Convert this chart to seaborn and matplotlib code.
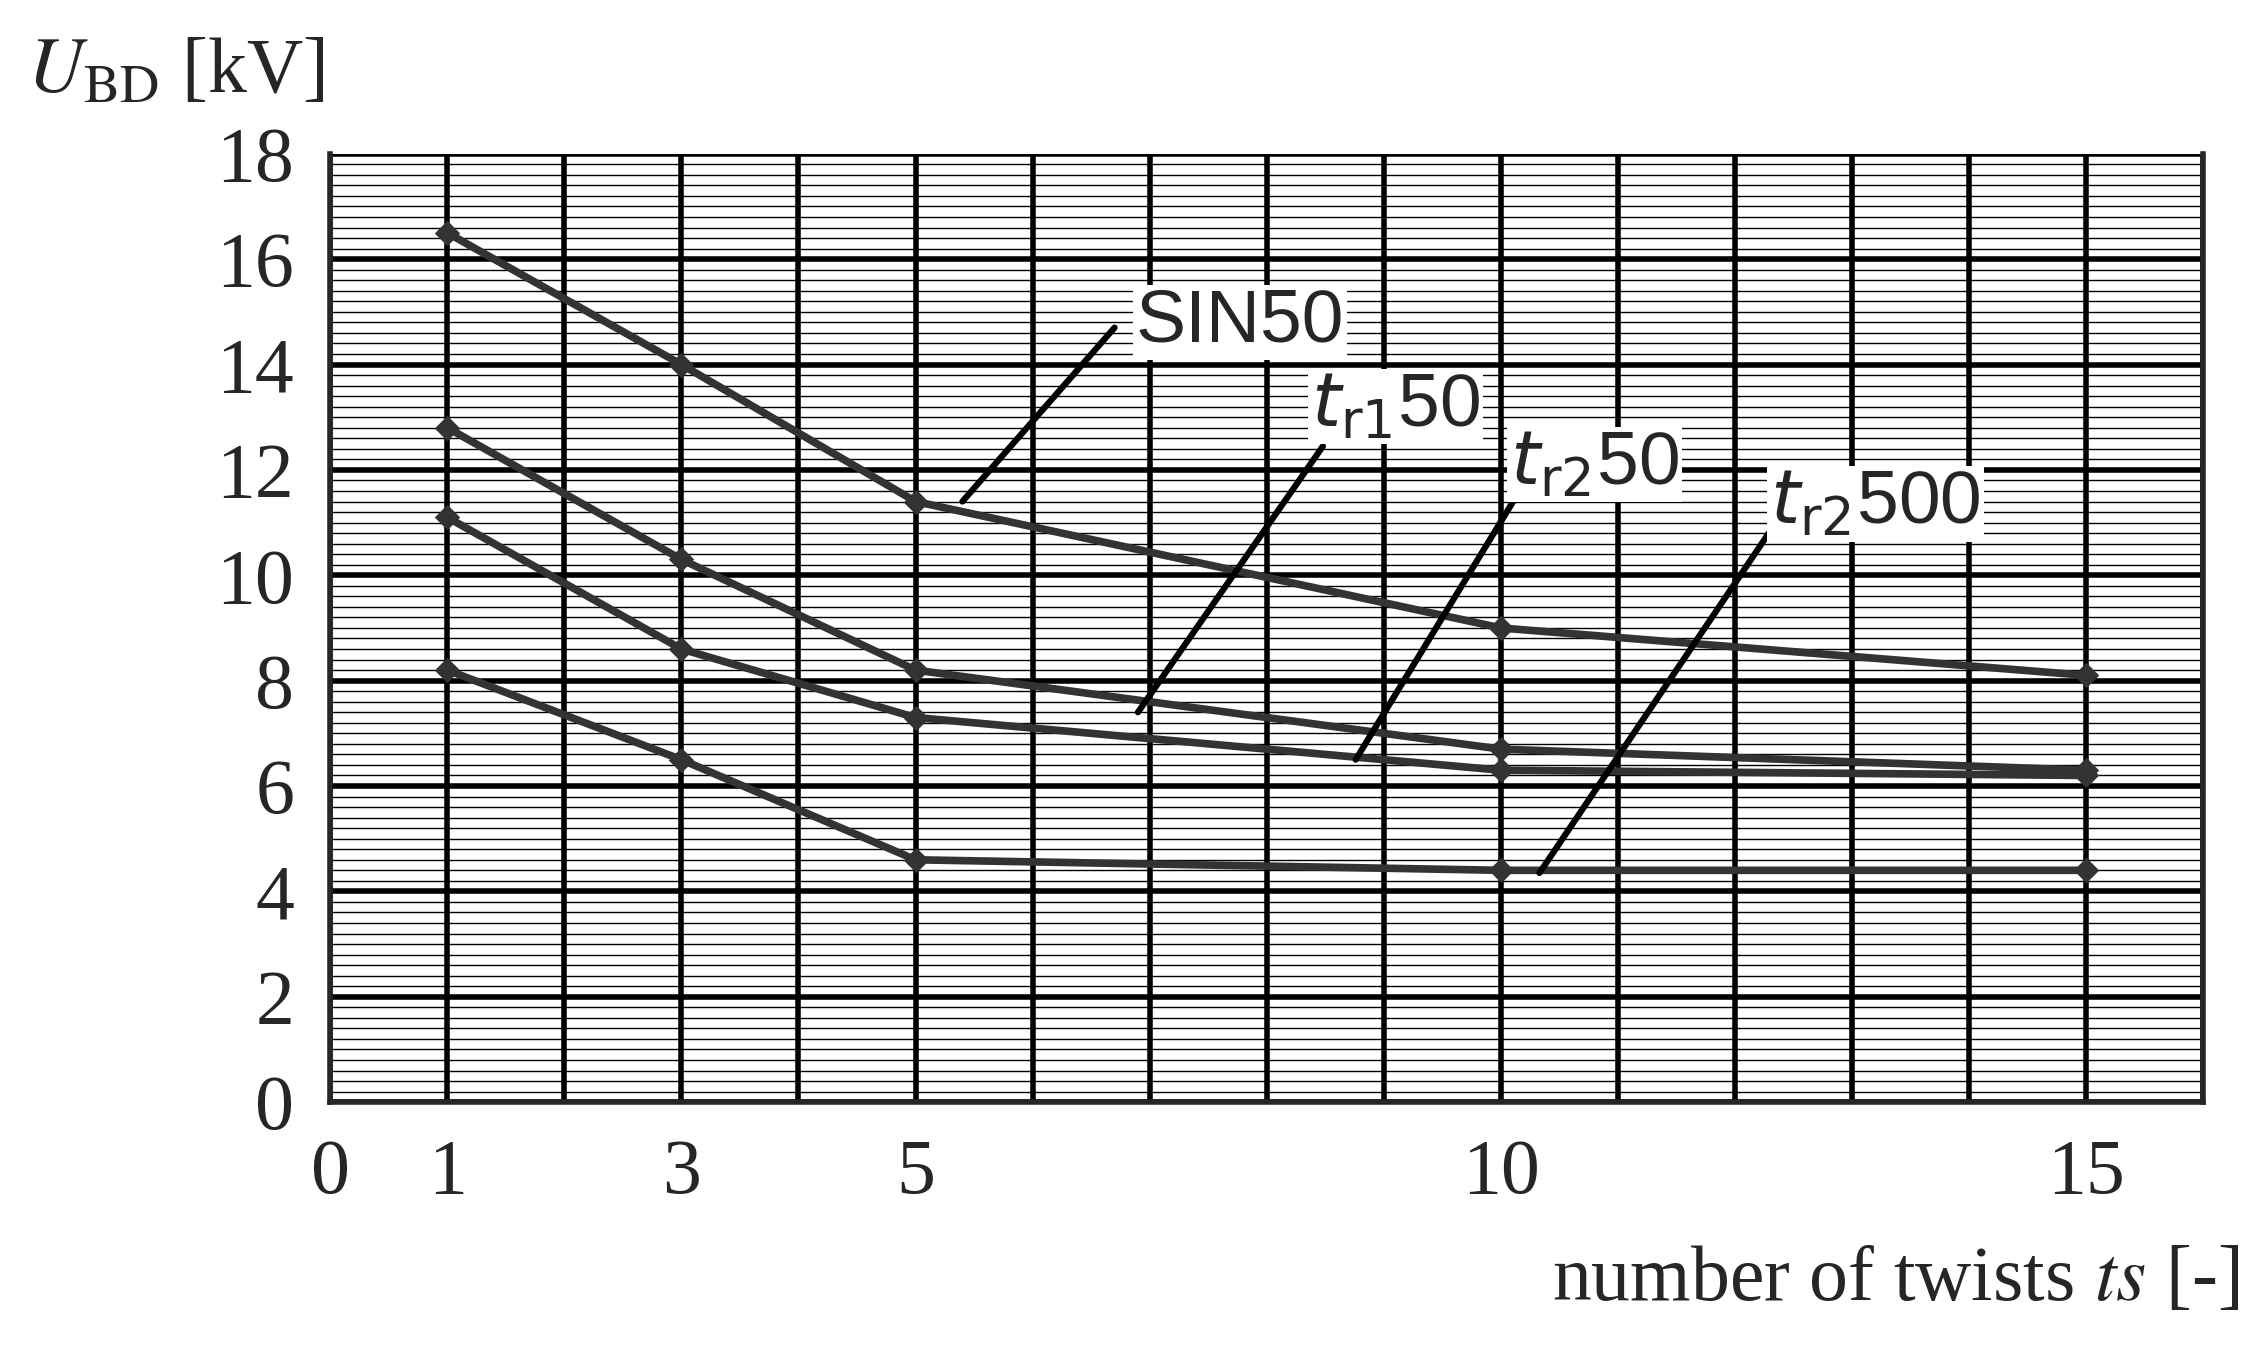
import matplotlib
matplotlib.use("Agg")
import matplotlib.pyplot as plt
import seaborn as sns
import numpy as np
import pandas as pd

twists = [1, 3, 5, 10, 15]
sin50 = [16.5, 14.0, 11.4, 9.0, 8.1]
tr1_50 = [12.8, 10.3, 8.2, 6.7, 6.3]
tr2_50 = [11.1, 8.6, 7.3, 6.3, 6.2]
tr2_500 = [8.2, 6.5, 4.6, 4.4, 4.4]
xticks = [0, 1, 3, 5, 10, 15]

sns.set_style("white")
plt.rcParams['font.family'] = ['Liberation Serif', 'DejaVu Serif']

fig = plt.figure(figsize=(22.62, 13.49), dpi=100)
ax = fig.add_axes([0.146, 0.183, 0.828, 0.703])

# grid: thin every 0.2 kV, thick every 2 kV and every twist
for y in np.arange(0, 18.01, 0.2):
    ax.axhline(y, color="black", lw=1.0, zorder=0)
for y in range(0, 19, 2):
    ax.axhline(y, color="black", lw=4, zorder=0)
for x in range(0, 17):
    ax.axvline(x, color="black", lw=4, zorder=0)

df = pd.DataFrame({"ts": twists * 4,
                   "U": sin50 + tr1_50 + tr2_50 + tr2_500,
                   "s": ["SIN50"] * 5 + ["tr1"] * 5 + ["tr2"] * 5 + ["tr2_500"] * 5})
sns.lineplot(data=df, x="ts", y="U", units="s", estimator=None, color="#333333",
             lw=5.5, marker="D", markersize=12, markeredgecolor="#333333", ax=ax, zorder=3)

ax.set_xlim(0, 16)
ax.set_ylim(0, 18)
ax.set_xticks(xticks)
ax.set_yticks(range(0, 19, 2))
ax.tick_params(axis="both", labelsize=56, direction="out", length=14, width=4, pad=12)
for s in ax.spines.values():
    s.set_linewidth(4)
ax.spines["top"].set_visible(False)
ax.set_xlabel("")
ax.set_ylabel("")

fig.text(0.012, 0.945, r"$U_{\mathrm{BD}}$ [kV]", fontsize=56, ha="left", va="center",
         math_fontfamily="stix")
fig.text(0.99, 0.05, r"number of twists $ts$ [-]", fontsize=56, ha="right", va="center",
         math_fontfamily="stix")

labels = [("SIN50", 7.77, 14.8, (6.7, 14.7), (5.4, 11.4)),
          (r"$t_{\mathrm{r1}}$50", 9.1, 13.2, (8.48, 12.45), (6.9, 7.4)),
          (r"$t_{\mathrm{r2}}$50", 10.8, 12.1, (10.16, 11.6), (8.76, 6.5)),
          (r"$t_{\mathrm{r2}}$500", 13.2, 11.35, (12.35, 11.0), (10.33, 4.35))]
for txt, tx, ty, p0, p1 in labels:
    ax.plot([p0[0], p1[0]], [p0[1], p1[1]], color="black", lw=4.5, zorder=4)
    ax.text(tx, ty, txt, fontsize=54, family="Liberation Sans", ha="center", va="center",
            math_fontfamily="dejavusans", zorder=5,
            bbox=dict(facecolor="white", edgecolor="none", pad=2))

fig.savefig("out.png", dpi=100, facecolor="white")
